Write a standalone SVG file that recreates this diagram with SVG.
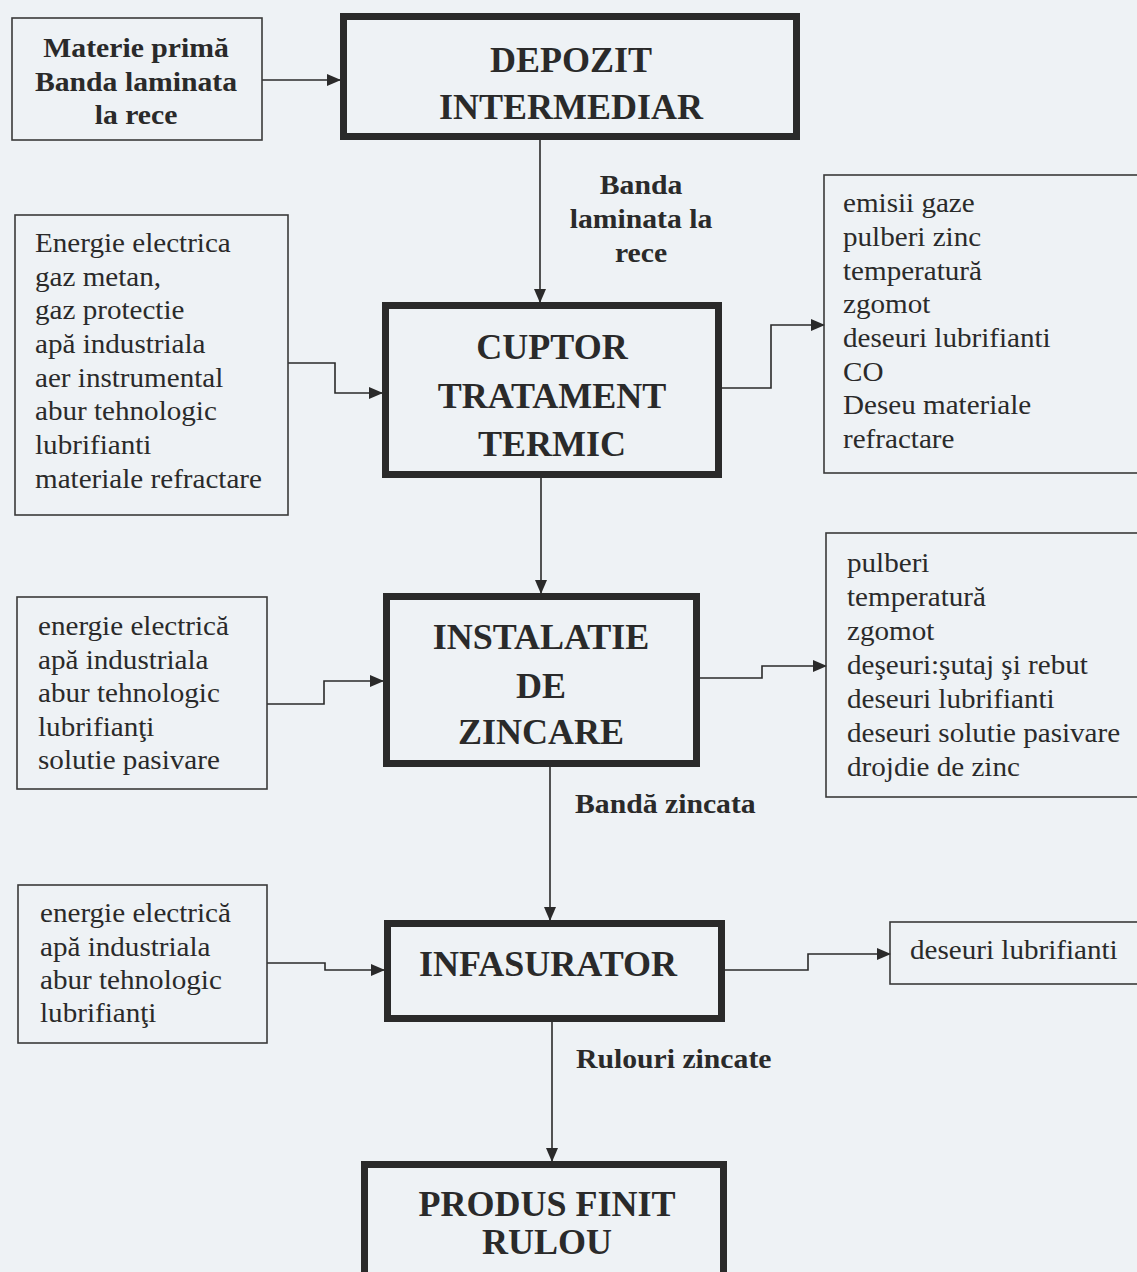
<svg xmlns="http://www.w3.org/2000/svg" width="1137" height="1272" viewBox="0 0 1137 1272">
<defs>
<style>
.bg{fill:#eef2f5}
.thin{fill:none;stroke:#3a3a3a;stroke-width:1.6}
.thick{fill:none;stroke:#2a2a2a;stroke-width:7}
.con{fill:none;stroke:#2a2a2a;stroke-width:1.6}
text{font-family:"Liberation Serif","Times New Roman",serif;fill:#2a2a2a}
.title{font-size:36px;font-weight:bold;text-anchor:middle}
.lab{font-size:27px;font-weight:bold;text-anchor:middle}
.labl{font-size:27px;font-weight:bold}
.list{font-size:28px}
</style>
<marker id="ah" markerUnits="userSpaceOnUse" markerWidth="14" markerHeight="12" refX="13" refY="6" orient="auto">
<path d="M0,0 L14,6 L0,12 Z" fill="#2a2a2a"/>
</marker>
</defs>
<rect class="bg" x="0" y="0" width="1137" height="1272"/>

<g id="connectors">
<line class="con" x1="262" y1="80" x2="340" y2="80" marker-end="url(#ah)"/>
<line class="con" x1="540" y1="140" x2="540" y2="302" marker-end="url(#ah)"/>
<polyline class="con" points="288,363 335,363 335,393 382,393" marker-end="url(#ah)"/>
<polyline class="con" points="722,388 771,388 771,325 824,325" marker-end="url(#ah)"/>
<line class="con" x1="541" y1="478" x2="541" y2="593" marker-end="url(#ah)"/>
<polyline class="con" points="267,704 324,704 324,681 383,681" marker-end="url(#ah)"/>
<polyline class="con" points="700,678 762,678 762,666 826,666" marker-end="url(#ah)"/>
<line class="con" x1="550" y1="767" x2="550" y2="920" marker-end="url(#ah)"/>
<polyline class="con" points="267,963 325,963 325,970 384,970" marker-end="url(#ah)"/>
<polyline class="con" points="725,970 808,970 808,954 890,954" marker-end="url(#ah)"/>
<line class="con" x1="552" y1="1022" x2="552" y2="1161" marker-end="url(#ah)"/>
<g transform="translate(641,0) scale(1.1,1)">
<text class="lab" x="0" y="194">Banda</text>
<text class="lab" x="0" y="228">laminata la</text>
<text class="lab" x="0" y="262">rece</text>
</g>
<g transform="translate(575,0) scale(1.1,1)">
<text class="labl" x="0" y="813">Bandă zincata</text>
</g>
<g transform="translate(576,0) scale(1.1,1)">
<text class="labl" x="0" y="1068">Rulouri zincate</text>
</g>
</g>

<g id="materie-prima">
<rect class="thin" x="12" y="18" width="250" height="122"/>
<g transform="translate(136,0) scale(1.1,1)">
<text class="lab" x="0" y="57">Materie primă</text>
<text class="lab" x="0" y="91">Banda laminata</text>
<text class="lab" x="0" y="124">la rece</text>
</g>
</g>

<g id="depozit">
<rect class="thick" x="343.5" y="16.5" width="453" height="120"/>
<text class="title" x="571" y="72">DEPOZIT</text>
<text class="title" x="571" y="119">INTERMEDIAR</text>
</g>

<g id="input-cuptor">
<rect class="thin" x="15" y="215" width="273" height="300"/>
<g transform="translate(35,0) scale(1.04,1)">
<text class="list" x="0" y="252">Energie electrica</text>
<text class="list" x="0" y="286">gaz metan,</text>
<text class="list" x="0" y="319">gaz protectie</text>
<text class="list" x="0" y="353">apă industriala</text>
<text class="list" x="0" y="387">aer instrumental</text>
<text class="list" x="0" y="420">abur tehnologic</text>
<text class="list" x="0" y="454">lubrifianti</text>
<text class="list" x="0" y="488">materiale refractare</text>
</g>
</g>

<g id="cuptor">
<rect class="thick" x="385.5" y="305.5" width="333" height="169"/>
<text class="title" x="552" y="359">CUPTOR</text>
<text class="title" x="552" y="408">TRATAMENT</text>
<text class="title" x="552" y="456">TERMIC</text>
</g>

<g id="output-cuptor">
<rect class="thin" x="824" y="175" width="330" height="298"/>
<g transform="translate(843,0) scale(1.04,1)">
<text class="list" x="0" y="212">emisii gaze</text>
<text class="list" x="0" y="246">pulberi zinc</text>
<text class="list" x="0" y="280">temperatură</text>
<text class="list" x="0" y="313">zgomot</text>
<text class="list" x="0" y="347">deseuri lubrifianti</text>
<text class="list" x="0" y="381">CO</text>
<text class="list" x="0" y="414">Deseu materiale</text>
<text class="list" x="0" y="448">refractare</text>
</g>
</g>

<g id="input-zincare">
<rect class="thin" x="17" y="597" width="250" height="192"/>
<g transform="translate(38,0) scale(1.04,1)">
<text class="list" x="0" y="635">energie electrică</text>
<text class="list" x="0" y="669">apă industriala</text>
<text class="list" x="0" y="702">abur tehnologic</text>
<text class="list" x="0" y="736">lubrifianţi</text>
<text class="list" x="0" y="769">solutie pasivare</text>
</g>
</g>

<g id="instalatie">
<rect class="thick" x="386.5" y="596.5" width="310" height="167"/>
<text class="title" x="541" y="649">INSTALATIE</text>
<text class="title" x="541" y="698">DE</text>
<text class="title" x="541" y="744">ZINCARE</text>
</g>

<g id="output-zincare">
<rect class="thin" x="826" y="533" width="330" height="264"/>
<g transform="translate(847,0) scale(1.04,1)">
<text class="list" x="0" y="572">pulberi</text>
<text class="list" x="0" y="606">temperatură</text>
<text class="list" x="0" y="640">zgomot</text>
<text class="list" x="0" y="674">deşeuri:şutaj şi rebut</text>
<text class="list" x="0" y="708">deseuri lubrifianti</text>
<text class="list" x="0" y="742">deseuri solutie pasivare</text>
<text class="list" x="0" y="776">drojdie de zinc</text>
</g>
</g>

<g id="input-infasurator">
<rect class="thin" x="18" y="885" width="249" height="158"/>
<g transform="translate(40,0) scale(1.04,1)">
<text class="list" x="0" y="922">energie electrică</text>
<text class="list" x="0" y="956">apă industriala</text>
<text class="list" x="0" y="989">abur tehnologic</text>
<text class="list" x="0" y="1022">lubrifianţi</text>
</g>
</g>

<g id="infasurator">
<rect class="thick" x="387.5" y="923.5" width="334" height="95"/>
<text class="title" x="548" y="976">INFASURATOR</text>
</g>

<g id="output-infasurator">
<rect class="thin" x="890" y="922" width="260" height="62"/>
<g transform="translate(910,0) scale(1.04,1)">
<text class="list" x="0" y="959">deseuri lubrifianti</text>
</g>
</g>

<g id="produs-finit">
<rect class="thick" x="364.5" y="1164.5" width="359" height="115"/>
<text class="title" x="547" y="1216">PRODUS FINIT</text>
<text class="title" x="547" y="1254">RULOU</text>
</g>
</svg>
